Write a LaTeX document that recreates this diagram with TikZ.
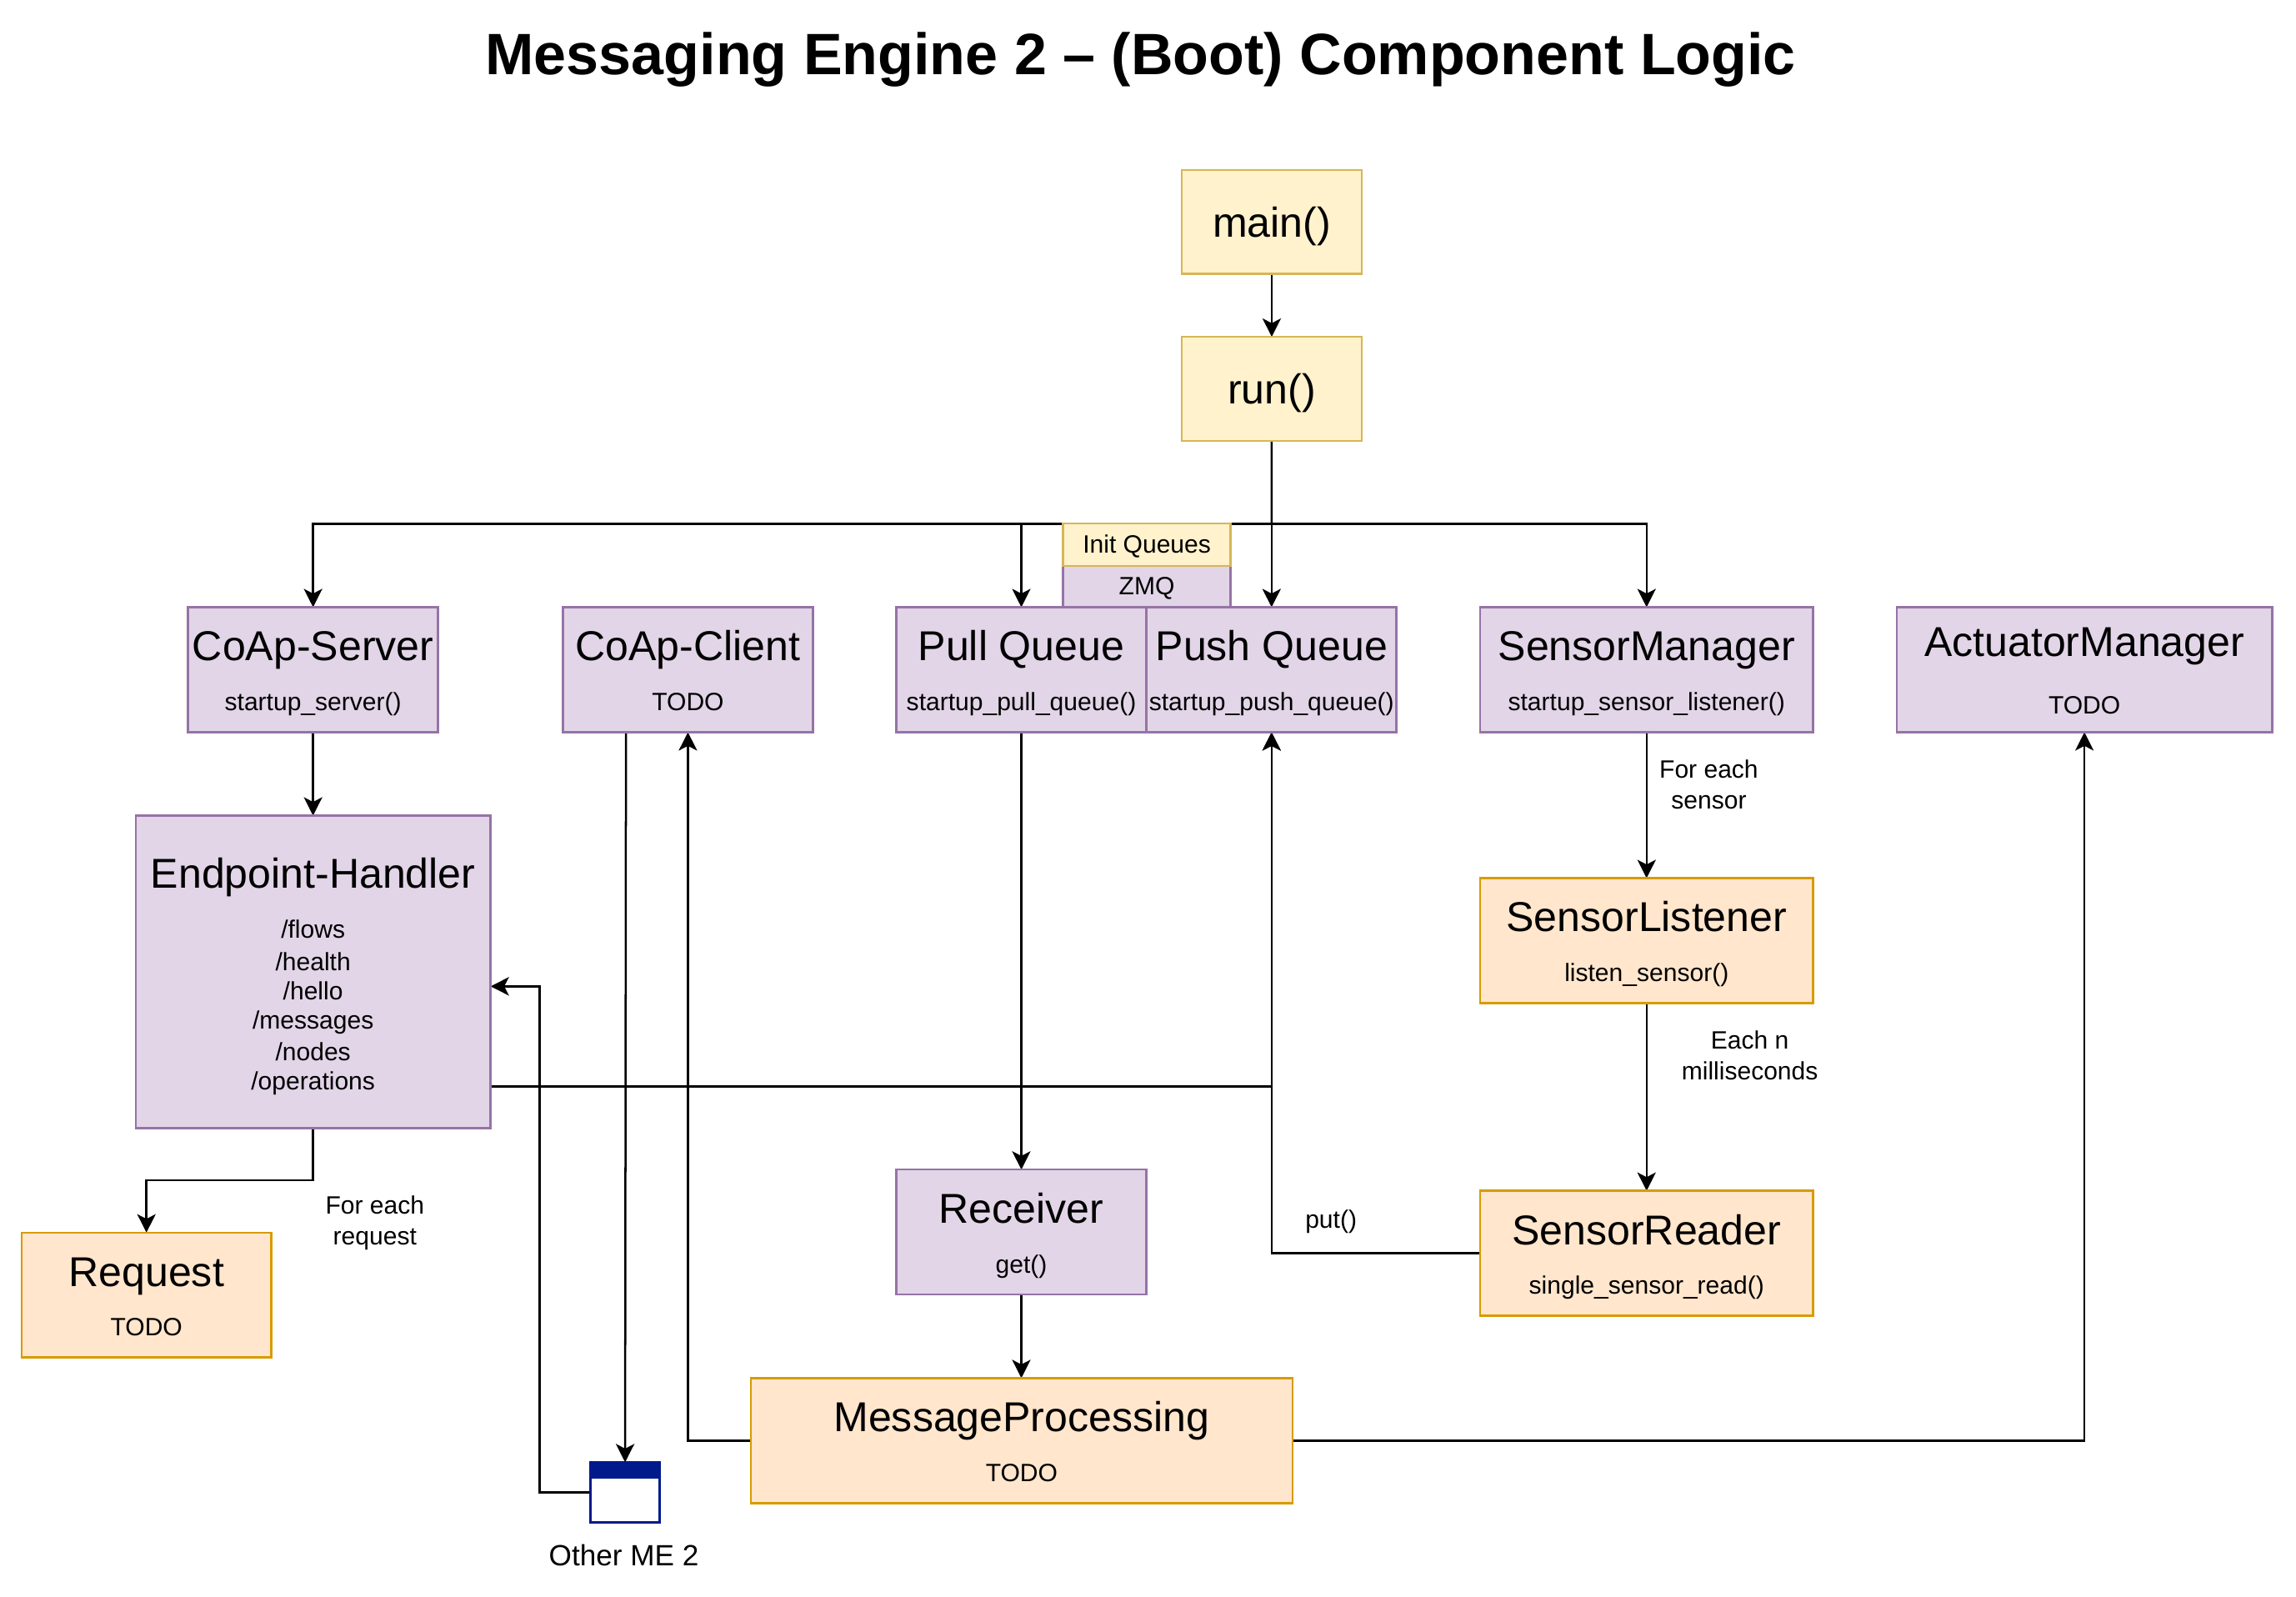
\documentclass[tikz,border=0pt]{standalone}
\usepackage{fontspec}
\setmainfont{Liberation Sans}
\usetikzlibrary{arrows.meta,backgrounds}
\definecolor{yfill}{HTML}{FFF2CC}\definecolor{yline}{HTML}{D6B656}
\definecolor{pfill}{HTML}{E1D5E7}\definecolor{pline}{HTML}{9673A6}
\definecolor{ofill}{HTML}{FFE6CC}\definecolor{oline}{HTML}{D79B00}
\definecolor{navy}{HTML}{001A8C}
\newcommand{\bigf}{\fontsize{21.375pt}{25.5pt}\selectfont}
\newcommand{\bxt}[2]{\rule{0pt}{27.4pt}{\bigf #1}\\{#2}\rule[-11pt]{0pt}{11pt}}
\newcommand{\tpt}[1]{\rule{0pt}{34.5pt}#1\rule[-18.75pt]{0pt}{18.75pt}}
\tikzset{
  x=0.75pt,y=-0.75pt,
  basebox/.style={draw,line width=1.07pt,inner sep=0pt,outer sep=0pt,align=center,
    font=\fontsize{12.825pt}{25.5pt}\selectfont,text=black},
  ybox/.style={basebox,draw=yline,fill=yfill},
  pbox/.style={basebox,draw=pline,fill=pfill},
  obox/.style={basebox,draw=oline,fill=ofill},
  stdsize/.style={minimum width=128pt,minimum height=64pt},
  widesize/.style={minimum width=170.6pt,minimum height=64pt},
  topsize/.style={minimum width=92.25pt,minimum height=53.25pt},
  conn/.style={draw=black,line width=1.07pt,-{Stealth[length=9.4pt,width=9.4pt,inset=2.4pt]}},
  plainline/.style={draw=black,line width=1.07pt},
  note/.style={inner sep=0pt,align=center,font=\fontsize{12.825pt}{15.75pt}\selectfont}
}
\begin{document}
\begin{tikzpicture}
\path[use as bounding box] (0,0) rectangle (1568,1090);
\node[inner sep=0pt,font=\bfseries\fontsize{29.9pt}{36pt}\selectfont] (title) at (779,40.5) {Messaging Engine 2 – (Boot) Component Logic};

\node[ybox,topsize,font=\bigf] (main) at (868.5,151.5) {\tpt{main()}};
\node[ybox,topsize,font=\bigf] (run) at (868.5,265.5) {\tpt{run()}};

\node[pbox,minimum width=85.8pt,minimum height=21pt] (zmq) at (783.2,400.5) {\rule{0pt}{10.8pt}ZMQ};
\node[ybox,minimum width=85.8pt,minimum height=21.75pt] (init) at (783.2,372) {\rule{0pt}{10.8pt}Init Queues};

\node[pbox,stdsize] (server) at (213.8,457.3) {\bxt{CoAp-Server}{startup\_server()}};
\node[pbox,stdsize] (client) at (469.8,457.3) {\bxt{CoAp-Client}{TODO}};
\node[pbox,stdsize] (pull) at (697.5,457.3) {\bxt{Pull Queue}{startup\_pull\_queue()}};
\node[pbox,stdsize] (push) at (868.4,457.3) {\bxt{Push Queue}{startup\_push\_queue()}};
\node[pbox,widesize] (manager) at (1124.5,457.3) {\bxt{SensorManager}{startup\_sensor\_listener()}};
\node[pbox,minimum width=192.4pt,minimum height=64pt] (actuator) at (1423.5,457.3)
  {\rule{0pt}{25.1pt}{\bigf ActuatorManager}\\[3.75pt]{TODO}\rule[-9.5pt]{0pt}{9.5pt}};

\node[pbox,minimum width=181.7pt,minimum height=160pt,font=\fontsize{12.825pt}{15pt}\selectfont] (handler) at (213.8,663.6)
  {\rule{0pt}{36.8pt}{\bigf Endpoint-Handler}\\[11pt]/flows\\[1.4pt]/health\\/hello\\/messages\\[1.1pt]/nodes\\/operations\rule[-19.5pt]{0pt}{19.5pt}};

\node[obox,widesize] (listener) at (1124.5,642.3) {\bxt{SensorListener}{listen\_sensor()}};
\node[obox,widesize] (reader) at (1124.5,855.8) {\bxt{SensorReader}{single\_sensor\_read()}};
\node[pbox,stdsize] (receiver) at (697.5,841.3) {\bxt{Receiver}{get()}};
\node[obox,stdsize] (request) at (100,884.3) {\bxt{Request}{TODO}};
\node[obox,minimum width=277.5pt,minimum height=64pt] (processing) at (697.7,983.7) {\bxt{MessageProcessing}{TODO}};

\node[draw=navy,line width=1.43pt,fill=white,inner sep=0pt,outer sep=0pt,minimum width=35.6pt,minimum height=30.9pt] (icon) at (426.9,1019.1) {};
\node[draw=navy,line width=1.43pt,fill=navy,inner sep=0pt,outer sep=0pt,minimum width=35.6pt,minimum height=7.5pt] (iconbar) at (426.9,1003.5) {};
\node[inner sep=0pt,font=\fontsize{15pt}{18pt}\selectfont] (otherlabel) at (426,1062) {Other ME 2};

\node[note] (n1) at (1167,535.5) {For each\\sensor};
\node[note] (n2) at (1195,720.5) {Each n\\milliseconds};
\node[note] (n3) at (909,834) {put()};
\node[note] (n4) at (256,835) {For each\\request};

\coordinate (bus) at (868.4,357.6);
\coordinate (ehout) at (335,741.8);
\coordinate (ehin) at (335,673.5);
\coordinate (rail) at (368.5,673.5);
\coordinate (clientout) at (427.5,500.4);
\coordinate (reqelbow) at (157,806);

\begin{scope}[on background layer]
\fill[white] (0,0) rectangle (1568,1090);
\path[conn] (main.south) -- (run.north);
\path[plainline] (run.south) -- (bus);
\path[conn] (bus) -| (server.north);
\path[conn] (bus) -| (pull.north);
\path[conn] (bus) -- (push.north);
\path[conn] (bus) -| (manager.north);
\path[conn] (server.south) -- (handler.north);
\path[conn] (handler.south) |- (reqelbow) -| (request.north);
\path[conn] (ehout) -| (push.south);
\path[conn] (reader.west) -| (push.south);
\path[conn] (pull.south) -- (receiver.north);
\path[conn] (receiver.south) -- (processing.north -| receiver.south);
\path[conn] (processing.west) -| (client.south);
\path[conn] (processing.east) -| (actuator.south);
\path[conn] (manager.south) -- (listener.north);
\path[conn] (listener.south) -- (reader.north);
\path[conn] (clientout) -- (iconbar.north);
\path[conn] (icon.west) -| (rail) -- (ehin);
\end{scope}
\end{tikzpicture}
\end{document}
